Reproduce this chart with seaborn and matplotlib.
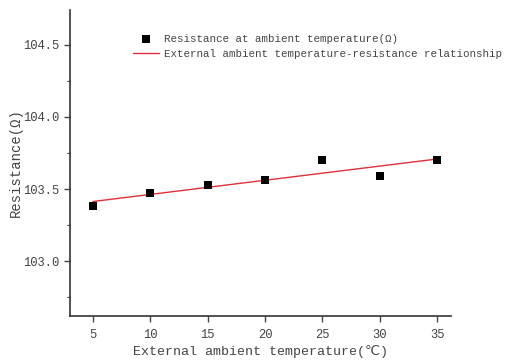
import numpy as np
import pandas as pd
import matplotlib
matplotlib.use("Agg")
import matplotlib.pyplot as plt
from matplotlib.ticker import MultipleLocator
import seaborn as sns

# data
temperature = [5, 10, 15, 20, 25, 30, 35]
resistance = [103.38, 103.47, 103.525, 103.56, 103.70, 103.59, 103.70]

df = pd.DataFrame({"temp": temperature, "res": resistance})

sns.set_theme(style="ticks")
plt.rcParams['font.family'] = ['Liberation Mono', 'DejaVu Sans']
text_color = "#444444"

fig = plt.figure(figsize=(5.05, 3.61), dpi=100)
ax = fig.add_axes([0.1386, 0.1247, 0.7544, 0.8473])

sns.scatterplot(data=df, x="temp", y="res", marker="s", color="black",
                s=34, edgecolor="black", linewidth=0, ax=ax,
                label="Resistance at ambient temperature(Ω)", zorder=3)
sns.regplot(data=df, x="temp", y="res", scatter=False, ci=None, truncate=True,
            line_kws={"color": "#e0303a", "linewidth": 1.0},
            label="External ambient temperature-resistance relationship", ax=ax)

ax.set_xlim(3.0, 36.2)
ax.set_ylim(102.62, 104.74)
ax.xaxis.set_major_locator(MultipleLocator(5))
ax.yaxis.set_major_locator(MultipleLocator(0.5))
ax.yaxis.set_minor_locator(MultipleLocator(0.25))
ax.yaxis.set_major_formatter(matplotlib.ticker.FormatStrFormatter("%.1f"))

for s in ["top", "right"]:
    ax.spines[s].set_visible(False)
for s in ["left", "bottom"]:
    ax.spines[s].set_color("#333333")
    ax.spines[s].set_linewidth(1.2)

ax.tick_params(axis="both", which="major", length=4, width=1, colors=text_color,
               labelsize=8.7, direction="out")
ax.tick_params(axis="x", which="major", pad=5.5)
ax.tick_params(axis="y", which="minor", length=2.5, width=0.8, colors=text_color)

ax.set_xlabel("External ambient temperature(℃)", fontsize=9.6, color=text_color, labelpad=3)
ax.set_ylabel("Resistance(Ω)", fontsize=10, color=text_color, labelpad=0)

leg = ax.legend(loc="upper left", bbox_to_anchor=(0.252, 0.922), bbox_transform=fig.transFigure,
                frameon=False, fontsize=7.8, handlelength=2.4, handletextpad=0.5,
                labelspacing=0.5, borderpad=0)
for t in leg.get_texts():
    t.set_color(text_color)

fig.savefig("out.png", dpi=100)
